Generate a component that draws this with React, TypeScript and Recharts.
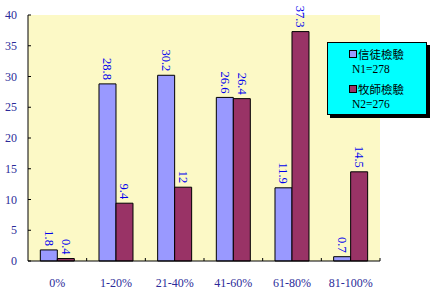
import React from 'react';
import { BarChart, Bar, XAxis, YAxis, CartesianGrid, LabelList, Legend } from 'recharts';

const categories = ['0%', '1-20%', '21-40%', '41-60%', '61-80%', '81-100%'];
const believers = [1.8, 28.8, 30.2, 26.6, 11.9, 0.7];
const pastors = [0.4, 9.4, 12, 26.4, 37.3, 14.5];
const yTicks = [0, 5, 10, 15, 20, 25, 30, 35, 40];
const seriesNames = ['信徒檢驗', '牧師檢驗'];
const seriesNotes = ['N1=278', 'N2=276'];

const data = categories.map((c, i) => ({ cat: c, a: believers[i], b: pastors[i] }));

const AXIS_COLOR = '#2b2b99';
const LABEL_COLOR = '#0000ee';
const FONT = '"Liberation Serif", "Times New Roman", serif';
const CJK = '"Noto Sans CJK TC", "Noto Sans CJK SC", sans-serif';

const XTick = (props: any) => {
  const { x, y, payload } = props;
  const off = payload && payload.offset ? payload.offset : 29.3;
  return (
    <g>
      <line x1={x + off} x2={x + off} y1={y} y2={y - 3} stroke="#000" strokeWidth={1} />
      <text x={x} y={y + 22} textAnchor="middle" dominantBaseline="central" fill={AXIS_COLOR} fontFamily={FONT} fontSize={12}>
        {payload.value}
      </text>
    </g>
  );
};

const YTick = (props: any) => {
  const { x, y, payload } = props;
  return (
    <g>
      <line x1={x} x2={x + 3} y1={y} y2={y} stroke="#000" strokeWidth={1} />
      <text x={x - 11} y={y} textAnchor="end" dominantBaseline="central" fill={AXIS_COLOR} fontFamily={FONT} fontSize={12}>
        {payload.value}
      </text>
    </g>
  );
};

const RotLabel = (props: any) => {
  const { x, y, width, value } = props;
  const cx = x + width / 2;
  const ty = y - 4;
  return (
    <text
      x={cx}
      y={ty}
      transform={`rotate(90 ${cx} ${ty})`}
      textAnchor="end"
      dominantBaseline="central"
      fill={LABEL_COLOR}
      fontFamily={FONT}
      fontSize={12.5}
    >
      {value}
    </text>
  );
};

const colors = ['#9999ff', '#993366'];

const LegendBox = () => (
  <div
    style={{
      width: 98,
      height: 71,
      background: '#00ffff',
      border: '1px solid #000',
      boxShadow: '3px 3px 0 #000',
      position: 'relative',
    }}
  >
    <svg width={98} height={71} style={{ position: 'absolute', left: 0, top: 0 }}>
      {seriesNames.map((n, i) => (
        <g key={n}>
          <rect x={21.5} y={7.5 + i * 35} width={7} height={7} fill={colors[i]} stroke="#000" strokeWidth={1} />
          <text x={30} y={11 + i * 35} dominantBaseline="central" fontFamily={CJK} fontSize={11.5} fill="#000">
            {n}
          </text>
          <text x={24} y={26 + i * 35} dominantBaseline="central" fontFamily={FONT} fontSize={11.5} fill="#000">
            {seriesNotes[i]}
          </text>
        </g>
      ))}
    </svg>
  </div>
);

export default function App() {
  return (
    <div style={{ position: 'absolute', left: 0, top: 0, width: 432, height: 293, background: '#fff' }}>
      <BarChart
        width={432}
        height={293}
        data={data}
        margin={{ top: 15, right: 52, bottom: 0, left: 0 }}
        barCategoryGap="21%"
        barGap={0}
      >
        <CartesianGrid fill="#fcf9c6" stroke="none" horizontal={false} vertical={false} />
        <XAxis
          dataKey="cat"
          height={32}
          tickLine={false}
          tickSize={0}
          tickMargin={0}
          interval={0}
          axisLine={{ stroke: '#000', strokeWidth: 1 }}
          tick={<XTick />}
        />
        <XAxis xAxisId="top" dataKey="cat" orientation="top" height={0} tick={false} tickLine={false} axisLine={{ stroke: '#c0c0c0' }} />
        <YAxis
          width={28}
          domain={[0, 40]}
          ticks={yTicks}
          interval={0}
          tickLine={false}
          tickSize={0}
          tickMargin={0}
          axisLine={{ stroke: '#000', strokeWidth: 1 }}
          tick={<YTick />}
        />
        <YAxis yAxisId="right" orientation="right" width={0} tick={false} tickLine={false} axisLine={{ stroke: '#c0c0c0' }} />
        <Legend
          layout="vertical"
          align="center"
          verticalAlign="middle"
          wrapperStyle={{ left: 327, top: 42, width: 100, height: 73 }}
          content={<LegendBox />}
        />
        <Bar dataKey="a" name={seriesNames[0]} fill={colors[0]} stroke="#000" strokeWidth={1} isAnimationActive={false}>
          <LabelList dataKey="a" content={<RotLabel />} />
        </Bar>
        <Bar dataKey="b" name={seriesNames[1]} fill={colors[1]} stroke="#000" strokeWidth={1} isAnimationActive={false}>
          <LabelList dataKey="b" content={<RotLabel />} />
        </Bar>
      </BarChart>
    </div>
  );
}
